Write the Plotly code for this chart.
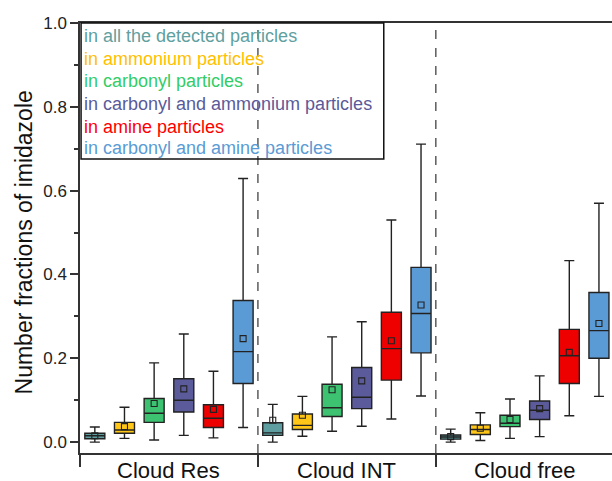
import plotly.graph_objects as go

groups = ["Cloud Res", "Cloud INT", "Cloud free"]
series = [
    "in all the detected particles",
    "in ammonium particles",
    "in carbonyl particles",
    "in carbonyl and ammonium particles",
    "in amine particles",
    "in carbonyl and amine particles",
]
fill_colors = ["#5F9EA0", "#FFC61A", "#3CC270", "#5B5B9B", "#EE0000", "#5B9BD5"]
text_colors = ["#5FA0A0", "#FFC000", "#33CC66", "#5A5A9A", "#FF0000", "#5B9BD5"]

# per series: values for [Cloud Res, Cloud INT, Cloud free]
lower = [
    [0.000, 0.000, 0.000],
    [0.009, 0.014, 0.004],
    [0.005, 0.026, 0.009],
    [0.016, 0.038, 0.013],
    [0.010, 0.055, 0.063],
    [0.035, 0.110, 0.109],
]
q1 = [
    [0.008, 0.016, 0.007],
    [0.021, 0.030, 0.018],
    [0.047, 0.061, 0.037],
    [0.072, 0.080, 0.054],
    [0.035, 0.148, 0.140],
    [0.140, 0.213, 0.200],
]
median = [
    [0.015, 0.022, 0.012],
    [0.029, 0.040, 0.030],
    [0.069, 0.082, 0.045],
    [0.100, 0.107, 0.076],
    [0.057, 0.223, 0.206],
    [0.216, 0.307, 0.266],
]
q3 = [
    [0.021, 0.046, 0.017],
    [0.047, 0.067, 0.041],
    [0.104, 0.138, 0.064],
    [0.151, 0.178, 0.098],
    [0.089, 0.310, 0.269],
    [0.338, 0.417, 0.357],
]
upper = [
    [0.036, 0.090, 0.031],
    [0.083, 0.109, 0.070],
    [0.189, 0.251, 0.103],
    [0.258, 0.287, 0.158],
    [0.169, 0.530, 0.433],
    [0.629, 0.711, 0.570],
]
means = [
    [0.015, 0.052, 0.013],
    [0.037, 0.064, 0.033],
    [0.092, 0.125, 0.054],
    [0.127, 0.146, 0.080],
    [0.078, 0.242, 0.214],
    [0.247, 0.327, 0.283],
]
y_title = "Number fractions of imidazole"

font_family = "Liberation Sans, Arial, sans-serif"
n_series = len(series)

fig = go.Figure()
for k in range(n_series):
    xs = [g * n_series + k + 0.5 for g in range(len(groups))]
    fig.add_trace(go.Box(
        x=xs, q1=q1[k], median=median[k], q3=q3[k],
        lowerfence=lower[k], upperfence=upper[k],
        fillcolor=fill_colors[k],
        line=dict(color="#222222", width=1.4),
        width=0.675, whiskerwidth=0.5,
        boxpoints=False, showlegend=False, hoverinfo="skip",
    ))
    fig.add_trace(go.Scatter(
        x=xs, y=means[k], mode="markers",
        marker=dict(symbol="square-open", size=6, color="#222222",
                    line=dict(width=1.1, color="#222222")),
        showlegend=False, hoverinfo="skip",
    ))

# dashed separators between groups
for g in range(1, len(groups)):
    fig.add_shape(type="line", xref="x", yref="paper",
                  x0=g * n_series, x1=g * n_series, y0=0, y1=1,
                  line=dict(color="#333333", width=1.2, dash="dash"))

# group labels
for g, name in enumerate(groups):
    fig.add_annotation(xref="x", yref="paper", x=g * n_series + n_series / 2, y=-0.008,
                       xanchor="center", yanchor="top", showarrow=False, text=name,
                       font=dict(size=22, color="#111111", family=font_family))

# y-axis title
fig.add_annotation(xref="paper", yref="paper", x=-0.105, y=0.49,
                   xanchor="center", yanchor="middle", showarrow=False, textangle=-90,
                   text=y_title, font=dict(size=23, color="#111111", family=font_family))

# legend box
fig.add_shape(type="rect", xref="paper", yref="paper",
              x0=0.002, x1=0.571, y0=0.6837, y1=1.0,
              line=dict(color="#111111", width=1.5), fillcolor="rgba(255,255,255,0)")
legend_y = [0.970, 0.917, 0.864, 0.812, 0.759, 0.710]
for k in range(n_series):
    fig.add_annotation(xref="paper", yref="paper", x=0.003, y=legend_y[k],
                       xanchor="left", yanchor="middle", showarrow=False,
                       text=series[k], font=dict(size=18, color=text_colors[k], family=font_family))

fig.update_layout(
    width=612, height=481,
    margin=dict(l=80, r=0, t=23, b=28),
    plot_bgcolor="white", paper_bgcolor="white",
    boxmode="overlay",
    font=dict(family=font_family, color="#222222"),
    xaxis=dict(
        range=[0, 17.94], automargin=False,
        showticklabels=False, ticks="",
        showgrid=False, zeroline=False,
        showline=True, linecolor="#333333", linewidth=1.5, mirror=True,
        minor=dict(tickvals=[g * n_series for g in range(len(groups) + 1)],
                   ticks="outside", ticklen=12, tickcolor="#333333", tickwidth=1.5),
    ),
    yaxis=dict(
        range=[-0.026, 1.0], automargin=False,
        tickvals=[0, 0.2, 0.4, 0.6, 0.8, 1.0],
        ticktext=["0.0", "0.2", "0.4", "0.6", "0.8", "1.0"],
        ticks="outside", ticklen=8, tickwidth=1.5, tickcolor="#333333",
        tickfont=dict(size=17, color="#222222"),
        showgrid=False, zeroline=False,
        showline=True, linecolor="#333333", linewidth=1.5,
        minor=dict(tickvals=[0.1, 0.3, 0.5, 0.7, 0.9], ticks="outside",
                   ticklen=4, tickcolor="#333333", tickwidth=1.5),
    ),
)

fig.write_html("out.html", config={"displayModeBar": False},
               post_script="document.body.style.margin='0';")
